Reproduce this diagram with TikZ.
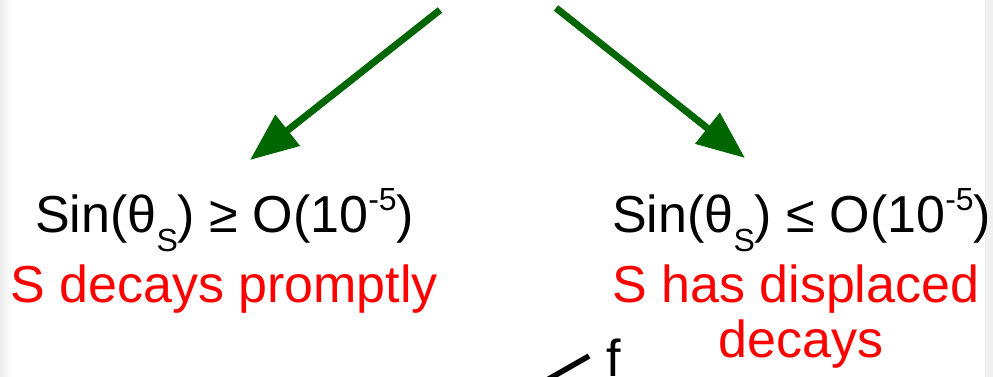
\documentclass[tikz,border=0pt]{standalone}
\usepackage{fontspec}
\setmainfont{Liberation Sans}
\usepackage{xcolor}
\usetikzlibrary{arrows.meta, positioning}
\definecolor{darkgreen}{RGB}{0,102,0}
\definecolor{slidered}{RGB}{255,0,0}
\tikzset{
  split/.style={draw=darkgreen, line width=7pt, -{Triangle[length=48pt, width=38pt]}},
  cond/.style={anchor=base west, inner sep=0pt, font=\fontsize{52}{55}\selectfont},
  outcome/.style={inner sep=0pt, text=slidered, font=\fontsize{52}{55}\selectfont},
  leg/.style={draw=black, line width=5.5pt},
}
\newcommand{\subS}{\raisebox{-19pt}{\fontsize{32}{32}\selectfont S}}
\newcommand{\supexp}{\raisebox{22pt}{\fontsize{32}{32}\selectfont -5}}

\begin{document}
\begin{tikzpicture}[x=1pt, y=-1pt]
  \useasboundingbox (0,0) rectangle (993,377);
  \clip (0,0) rectangle (993,377);
  % slide edges
  \fill[left color=black!7, right color=white] (0,0) rectangle (12,377);
  \fill[black!6] (985,0) rectangle (993,377);
  % two regimes
  \node[cond] (lcond) at (35,232) {Sin(θ\subS) ≥ O(10\supexp)};
  \node[cond] (rcond) at (612,232) {Sin(θ\subS) ≤ O(10\supexp)};
  \node[outcome, anchor=base west] (lout) at (10,302) {S decays promptly};
  \node[outcome, anchor=base west] (rout) at (612,302) {S has displaced};
  \node[outcome, anchor=base] (rdec) at ([xshift=5pt, yshift=-55pt]rout.base) {decays};
  \coordinate (lstart) at (440,10);
  \coordinate (ltip) at (250,160);
  \coordinate (rstart) at (556,8);
  \coordinate (rtip) at (745,158);
  \draw[split] (lstart) -- (ltip);
  \draw[split] (rstart) -- (rtip);
  % bottom fragment
  \node[cond] (fout) at (606,376) {f};
  \coordinate (fleg) at (589,356);
  \coordinate (fend) at (540,384);
  \draw[leg] (fend) -- (fleg);
\end{tikzpicture}
\end{document}
